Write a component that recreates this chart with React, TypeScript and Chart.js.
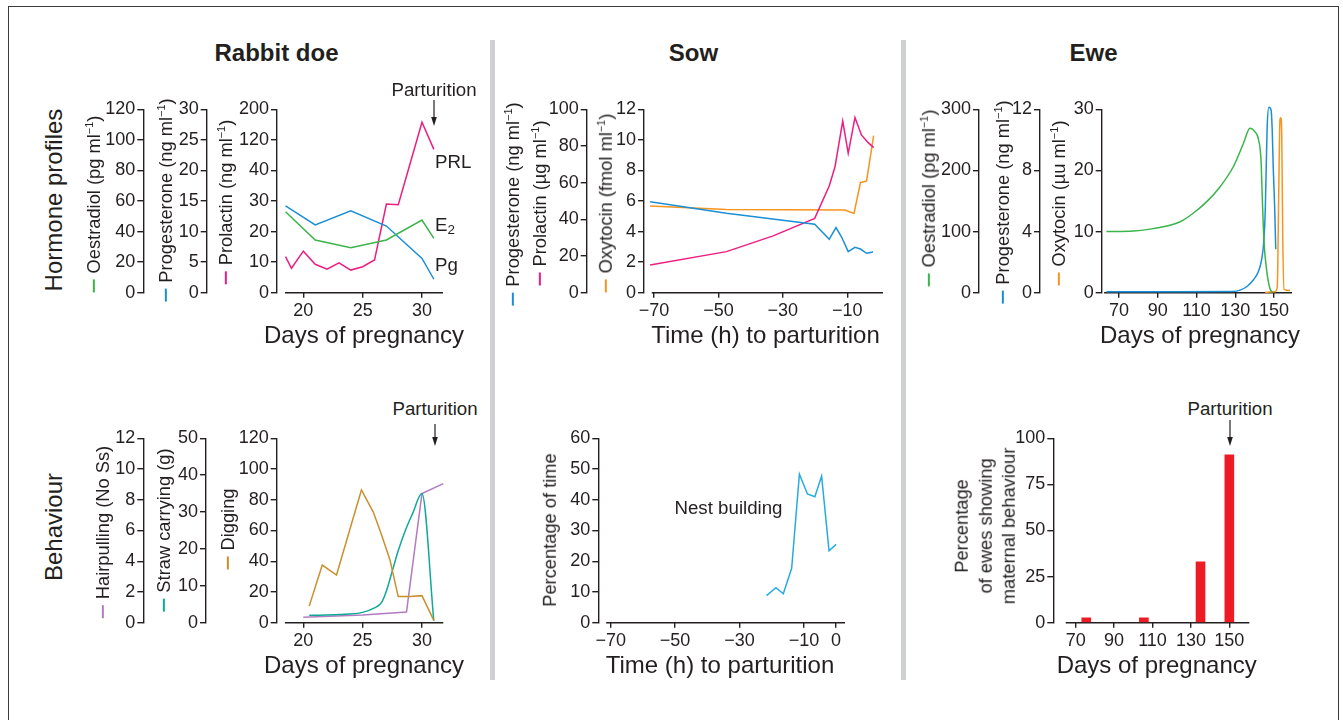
import React, { useEffect, useRef } from 'react';
import { Chart, registerables } from 'chart.js';

Chart.register(...registerables);

const FONT = "'Liberation Sans', Arial, Helvetica, sans-serif";
const INK = '#231f20';
Chart.defaults.font.family = FONT;
Chart.defaults.color = INK;

const GREEN = '#3ab54a';
const BLUE = '#1b8fd6';
const PINK = '#ec1e82';
const ORANGE = '#f7941e';
const TEAL = '#10a898';
const PURPLE = '#b27cc0';
const BROWN = '#c8902e';
const CYAN = '#27aae1';
const RED = '#ed1c24';

// ---------- Rabbit doe : hormone profiles ----------
const rabbitDaysTicks = [20, 25, 30];
const rabbitE2Days = [18.5, 21, 24, 27, 30, 31];
const rabbitE2 = [53, 34.5, 29.4, 34.5, 47.5, 35.5];
const rabbitPgDays = [18.5, 21, 24, 27, 30, 31];
const rabbitPg = [14.2, 11.1, 13.4, 10.9, 5.6, 2.2];
const rabbitPrlDays = [18.5, 19, 20, 21, 22, 23, 24, 25, 26, 27, 28, 30, 31];
const rabbitPrl = [11.8, 8, 13.6, 9.3, 7.7, 9.8, 7.4, 8.5, 10.7, 29, 28.8, 166, 95];
const rabbitE2Ticks = [0, 20, 40, 60, 80, 100, 120];
const rabbitPgTicks = [0, 5, 10, 15, 20, 25, 30];
const prlTickPos = [0, 10, 20, 30, 40, 50, 60];
const prlTickLabels = ['0', '10', '20', '30', '40', '120', '200'];

// ---------- Rabbit doe : behaviour ----------
const hairDays = [20, 25, 28.7, 30, 31.8];
const hairpulling = [0.35, 0.5, 0.7, 8.4, 9.05];
const strawDays = [20.5, 23, 25, 26, 26.6, 27, 27.5, 28, 28.6, 29.2, 30, 31];
const strawCarrying = [2.0, 2.2, 2.8, 4, 5.5, 8.5, 14, 19.5, 25, 29.5, 35, 0.5];
const digDays = [20.5, 21.6, 22.8, 24.9, 25.9, 26.6, 27.3, 28, 29, 30, 31];
const digging = [10.8, 37.5, 31, 86.4, 72, 57, 41, 17, 17, 17.6, 1.5];
const hairTicks = [0, 2, 4, 6, 8, 10, 12];
const strawTicks = [0, 10, 20, 30, 40, 50];
const digTicks = [0, 20, 40, 60, 80, 100, 120];

// ---------- Sow : hormone profiles ----------
const sowHourTicks = [-70, -50, -30, -10];
const sowPgHours = [-71.2, -47.5, -20.1, -15.6, -13.5, -11.8, -9.7, -7.6, -5.9, -4.0, -2.0];
const sowPg = [49.6, 43.3, 37.3, 29.1, 35.5, 30.5, 22.4, 24.7, 23.8, 21.5, 22.2];
const sowPrlHours = [-71.2, -47.5, -33, -20.1, -15.6, -13.8, -11.4, -9.7, -7.6, -5.6, -3.5, -1.8];
const sowPrl = [15.1, 22.4, 31, 40.5, 58.2, 68.7, 93.6, 76, 95.5, 86, 81.8, 79.1];
const sowOxyHours = [-71.2, -47.5, -10.7, -7.9, -5.9, -4.0, -1.8];
const sowOxy = [5.67, 5.45, 5.41, 5.19, 7.2, 7.31, 10.28];
const sowPPTicks = [0, 20, 40, 60, 80, 100];
const sowOxyTicks = [0, 2, 4, 6, 8, 10, 12];

// ---------- Sow : behaviour ----------
const nestHourTicks = [-70, -50, -30, -10, 0];
const nestHours = [-21.6, -18.7, -16.4, -13.8, -11.4, -8.9, -6.6, -4.5, -2.2, 0];
const nestBuilding = [8.8, 11.4, 9.4, 17.7, 48.3, 41.9, 41, 47.7, 23.4, 25.5];
const nestTicks = [0, 10, 20, 30, 40, 50, 60];

// ---------- Ewe : hormone profiles ----------
const eweDayTicks = [70, 90, 110, 130, 150];
const eweE2Days = [63.5, 77.4, 86, 94.6, 101.5, 108.3, 115.3, 122.1, 129, 134.2, 137.6, 140.2, 141.9, 143.3, 144, 144.8, 146.2, 147.9, 149.3];
const eweE2 = [100, 101, 104, 109, 116, 130, 149, 173, 206, 244, 269, 263, 252, 217, 152, 86, 37, 7, 0.5];
const ewePgDays = [63.5, 100, 129, 132.5, 135.9, 139.3, 141.9, 143.6, 144.8, 145.5, 146, 146.5, 147.4, 148.5, 149.1, 149.6, 150.4, 150.9];
const ewePg = [0.07, 0.07, 0.08, 0.17, 0.39, 0.83, 1.37, 2.14, 3.45, 5.4, 8.25, 10.9, 12.13, 11.95, 10.6, 8.25, 5.4, 2.84];
const eweOxyDays = [145.4, 150.5, 151.7, 152.4, 153.1, 153.5, 154, 154.5, 155.2, 158.3];
const eweOxy = [0.05, 0.16, 1.0, 15.2, 28.3, 28.6, 26, 9.7, 0.55, 0.35];
const eweE2Ticks = [0, 100, 200, 300];
const ewePgTicks = [0, 4, 8, 12];
const eweOxyTicks = [0, 10, 20, 30];

// ---------- Ewe : behaviour ----------
const eweBehavDays = [75.5, 105.5, 135, 150];
const eweMaternal = [2.7, 2.7, 33, 91];
const maternalTicks = [0, 25, 50, 75, 100];

// axis break for rabbit prolactin (0..40 linear, then 40->120, 120->200 per division)
const prlPos = (v: number) => (v <= 40 ? v : v <= 120 ? 40 + ((v - 40) / 80) * 10 : 50 + ((v - 120) / 80) * 10);

const fmt = (v: number) => (v < 0 ? '\u2212' + Math.abs(v) : String(v));

type YOpt = { min: number; max: number; ticks: number[]; width: number; weight: number; labels?: string[] };

function yScale(o: YOpt) {
  return {
    type: 'linear',
    position: 'left',
    min: o.min,
    max: o.max,
    weight: o.weight,
    afterFit: (s: any) => {
      s.width = o.width;
    },
    afterBuildTicks: (s: any) => {
      s.ticks = o.ticks.map((v) => ({ value: v }));
    },
    grid: { drawOnChartArea: false, drawTicks: true, tickLength: 6, color: INK, lineWidth: 1.4 },
    border: { display: true, color: INK, width: 1.4 },
    ticks: {
      color: INK,
      font: { size: 18 },
      padding: 2,
      autoSkip: false,
      callback: (v: any) => {
        const n = Number(v);
        if (o.labels) {
          const i = o.ticks.indexOf(n);
          if (i >= 0) return o.labels[i];
        }
        return fmt(n);
      },
    },
  };
}

function xScale(o: { min: number; max: number; ticks: number[] }) {
  return {
    type: 'linear',
    position: 'bottom',
    min: o.min,
    max: o.max,
    offset: false,
    afterFit: (s: any) => {
      s.height = 67.3;
    },
    afterBuildTicks: (s: any) => {
      s.ticks = o.ticks.map((v) => ({ value: v }));
    },
    grid: { drawOnChartArea: false, drawTicks: true, tickLength: 5, color: INK, lineWidth: 1.4, offset: false },
    border: { display: false },
    ticks: { color: INK, font: { size: 18 }, padding: 3, maxRotation: 0, autoSkip: false, callback: (v: any) => fmt(Number(v)) },
    title: { display: false },
  };
}

function line(xs: number[], ys: number[], color: string, yAxisID: string, smooth = false) {
  return {
    type: 'line',
    data: xs.map((x, i) => ({ x, y: ys[i] })),
    borderColor: color,
    backgroundColor: color,
    borderWidth: 1.5,
    pointRadius: 0,
    fill: false,
    tension: 0,
    cubicInterpolationMode: smooth ? 'monotone' : 'default',
    clip: 6,
    yAxisID,
    xAxisID: 'x',
  };
}

const baselinePlugin = {
  id: 'baseline',
  beforeDatasetsDraw(chart: any, _args: any, opts: any) {
    const x = chart.scales.x;
    const { ctx, chartArea } = chart;
    ctx.save();
    ctx.strokeStyle = INK;
    ctx.lineWidth = 1.4;
    ctx.beginPath();
    ctx.moveTo(x.getPixelForValue(opts.from), chartArea.bottom);
    ctx.lineTo(chartArea.right, chartArea.bottom);
    ctx.stroke();
    ctx.restore();
  },
};

function opts(padding: any, from: number, scales: any) {
  return {
    responsive: false,
    maintainAspectRatio: false,
    animation: false,
    events: [],
    layout: { padding },
    plugins: { legend: { display: false }, tooltip: { enabled: false }, title: { display: false }, baseline: { from } },
    scales,
  };
}

const rtConfig = () => ({
  type: 'line',
  data: {
    datasets: [
      line(rabbitE2Days, rabbitE2, GREEN, 'yE2'),
      line(rabbitPgDays, rabbitPg, BLUE, 'yPg'),
      line(rabbitPrlDays, rabbitPrl.map(prlPos), PINK, 'yPrl'),
    ],
  },
  options: opts({ left: 0, top: 14.3, right: 32, bottom: 0 }, 18.45, {
    x: xScale({ min: 17.78, max: 31.77, ticks: rabbitDaysTicks }),
    yPrl: yScale({ min: 0, max: 60, ticks: prlTickPos, labels: prlTickLabels, width: 70.3, weight: 0 }),
    yPg: yScale({ min: 0, max: 30, ticks: rabbitPgTicks, width: 63.4, weight: 1 }),
    yE2: yScale({ min: 0, max: 120, ticks: rabbitE2Ticks, width: 43.3, weight: 2 }),
  }),
  plugins: [baselinePlugin],
});

const stConfig = () => ({
  type: 'line',
  data: {
    datasets: [
      line(sowPgHours, sowPg, BLUE, 'yPP'),
      line(sowPrlHours, sowPrl, PINK, 'yPP'),
      line(sowOxyHours, sowOxy, ORANGE, 'yOxy'),
    ],
  },
  options: opts({ left: 0, top: 14.3, right: 7, bottom: 0 }, -70.7, {
    x: xScale({ min: -73.1, max: 1.1, ticks: sowHourTicks }),
    yOxy: yScale({ min: 0, max: 12, ticks: sowOxyTicks, width: 57.3, weight: 0 }),
    yPP: yScale({ min: 0, max: 100, ticks: sowPPTicks, width: 86.7, weight: 1 }),
  }),
  plugins: [baselinePlugin],
});

const etConfig = () => ({
  type: 'line',
  data: {
    datasets: [
      line(eweE2Days, eweE2, GREEN, 'yE2', true),
      line(ewePgDays, ewePg, BLUE, 'yPg', true),
      line(eweOxyDays, eweOxy, ORANGE, 'yOxy', true),
    ],
  },
  options: opts({ left: 0, top: 14.3, right: 18, bottom: 0 }, 62.3, {
    x: xScale({ min: 61.07, max: 159.3, ticks: eweDayTicks }),
    yOxy: yScale({ min: 0, max: 30, ticks: eweOxyTicks, width: 61.7, weight: 0 }),
    yPg: yScale({ min: 0, max: 12, ticks: ewePgTicks, width: 61, weight: 1 }),
    yE2: yScale({ min: 0, max: 300, ticks: eweE2Ticks, width: 64, weight: 2 }),
  }),
  plugins: [baselinePlugin],
});

const rbConfig = () => ({
  type: 'line',
  data: {
    datasets: [
      line(digDays, digging, BROWN, 'yDig'),
      line(strawDays, strawCarrying, TEAL, 'yStraw', true),
      line(hairDays, hairpulling, PURPLE, 'yHair'),
    ],
  },
  options: opts({ left: 0, top: 13.3, right: 31.7, bottom: 0 }, 18.45, {
    x: xScale({ min: 17.76, max: 31.8, ticks: rabbitDaysTicks }),
    yDig: yScale({ min: 0, max: 120, ticks: digTicks, width: 70.7, weight: 0 }),
    yStraw: yScale({ min: 0, max: 50, ticks: strawTicks, width: 62.7, weight: 1 }),
    yHair: yScale({ min: 0, max: 12, ticks: hairTicks, width: 43.3, weight: 2 }),
  }),
  plugins: [baselinePlugin],
});

const sbConfig = () => ({
  type: 'line',
  data: { datasets: [line(nestHours, nestBuilding, CYAN, 'y')] },
  options: opts({ left: 0, top: 13.3, right: 45, bottom: 0 }, -71.4, {
    x: xScale({ min: -73.85, max: 2.76, ticks: nestHourTicks }),
    y: yScale({ min: 0, max: 60, ticks: nestTicks, width: 98.3, weight: 0 }),
  }),
  plugins: [baselinePlugin],
});

const ebConfig = () => ({
  type: 'bar',
  data: {
    datasets: [
      {
        data: eweBehavDays.map((x, i) => ({ x, y: eweMaternal[i] })),
        backgroundColor: RED,
        borderWidth: 0,
        barThickness: 9,
        xAxisID: 'x',
        yAxisID: 'y',
      },
    ],
  },
  options: opts({ left: 0, top: 13.3, right: 60.7, bottom: 0 }, 64.8, {
    x: xScale({ min: 58.33, max: 160.4, ticks: eweDayTicks }),
    y: yScale({ min: 0, max: 100, ticks: maternalTicks, width: 138.3, weight: 0 }),
  }),
  plugins: [baselinePlugin],
});

function Panel({ left, top, width, height, make }: { left: number; top: number; width: number; height: number; make: () => any }) {
  const ref = useRef<HTMLCanvasElement>(null);
  useEffect(() => {
    const chart = new Chart(ref.current as HTMLCanvasElement, make());
    return () => chart.destroy();
  }, []);
  return (
    <canvas
      ref={ref}
      width={width}
      height={height}
      style={{ position: 'absolute', left, top, width, height }}
    />
  );
}

function Txt({ x, y, size = 18.7, bold = false, align = 'center', children }: any) {
  return (
    <div
      style={{
        position: 'absolute',
        left: x,
        top: y,
        transform: `translate(${align === 'center' ? '-50%' : '0'},-50%)`,
        fontSize: size,
        fontWeight: bold ? 700 : 400,
        lineHeight: 1,
        whiteSpace: 'nowrap',
      }}
    >
      {children}
    </div>
  );
}

function VLabel({ cx, cy, color, size = 18.3, children }: any) {
  return (
    <div
      style={{
        position: 'absolute',
        left: cx,
        top: cy,
        transform: 'translate(-50%,-50%) rotate(-90deg)',
        whiteSpace: 'nowrap',
        fontSize: size,
        lineHeight: 1,
        display: 'flex',
        alignItems: 'center',
      }}
    >
      {color ? (
        <span style={{ display: 'inline-block', width: 13, height: 1.6, background: color, marginRight: 6 }} />
      ) : null}
      <span>{children}</span>
    </div>
  );
}

function Arrow({ x, y1, y2 }: { x: number; y1: number; y2: number }) {
  const h = y2 - y1;
  return (
    <svg style={{ position: 'absolute', left: x - 5, top: y1, overflow: 'visible' }} width={10} height={h}>
      <line x1={5} y1={0} x2={5} y2={h - 6} stroke={INK} strokeWidth={1.2} />
      <polygon points={`2.2,${h - 9} 7.8,${h - 9} 5,${h}`} fill={INK} />
    </svg>
  );
}

const Inv = () => (
  <sup style={{ fontSize: '0.6em', verticalAlign: '0.65em', lineHeight: 0 }}>{'\u22121'}</sup>
);

export default function App() {
  return (
    <div
      style={{
        position: 'absolute',
        left: 0,
        top: 0,
        width: 1343,
        height: 720,
        overflow: 'hidden',
        background: '#fff',
        fontFamily: FONT,
        color: INK,
      }}
    >
      <div
        style={{
          position: 'absolute',
          left: 8,
          top: 6,
          width: 1331,
          height: 760,
          border: '1.5px solid #3a3a3a',
          boxSizing: 'border-box',
        }}
      />
      <div style={{ position: 'absolute', left: 490, top: 40, width: 5, height: 640, background: '#cfd0d2' }} />
      <div style={{ position: 'absolute', left: 901, top: 40, width: 5, height: 640, background: '#cfd0d2' }} />

      <Panel left={100} top={95} width={375} height={265} make={rtConfig} />
      <Panel left={500} top={95} width={390} height={265} make={stConfig} />
      <Panel left={915} top={95} width={395} height={265} make={etConfig} />
      <Panel left={100} top={425} width={375} height={265} make={rbConfig} />
      <Panel left={500} top={425} width={390} height={265} make={sbConfig} />
      <Panel left={915} top={425} width={395} height={265} make={ebConfig} />

      <Txt x={276.5} y={53} size={24} bold>Rabbit doe</Txt>
      <Txt x={693.5} y={53} size={24} bold>Sow</Txt>
      <Txt x={1093.5} y={53} size={24} bold>Ewe</Txt>

      <VLabel cx={54} cy={200} size={24}>Hormone profiles</VLabel>
      <VLabel cx={54} cy={527} size={24}>Behaviour</VLabel>

      {/* x-axis titles */}
      <Txt x={364} y={335.3} size={24}>Days of pregnancy</Txt>
      <Txt x={765.5} y={335.3} size={24}>Time (h) to parturition</Txt>
      <Txt x={1200} y={335.3} size={24}>Days of pregnancy</Txt>
      <Txt x={364} y={664.7} size={24}>Days of pregnancy</Txt>
      <Txt x={720} y={664.7} size={24}>Time (h) to parturition</Txt>
      <Txt x={1156.7} y={664.7} size={24}>Days of pregnancy</Txt>

      {/* Rabbit hormone axis titles */}
      <VLabel cx={94} cy={204} color={GREEN}>Oestradiol (pg ml<Inv />)</VLabel>
      <VLabel cx={165.5} cy={200} color={BLUE}>Progesterone (ng ml<Inv />)</VLabel>
      <VLabel cx={225.5} cy={201.5} color={PINK}>Prolactin (ng ml<Inv />)</VLabel>
      <Txt x={434} y={90}>Parturition</Txt>
      <Arrow x={434.3} y1={100} y2={126} />
      <Txt x={435} y={162} align="left">PRL</Txt>
      <Txt x={435} y={225} align="left">
        E<sub style={{ fontSize: '0.72em', verticalAlign: '-0.25em', lineHeight: 0 }}>2</sub>
      </Txt>
      <Txt x={435} y={265} align="left">Pg</Txt>

      {/* Sow hormone axis titles */}
      <VLabel cx={512.5} cy={203.5} color={BLUE}>Progesterone (ng ml<Inv />)</VLabel>
      <VLabel cx={539.5} cy={202.5} color={PINK}>Prolactin (µg ml<Inv />)</VLabel>
      <VLabel cx={605.5} cy={202.5} color={ORANGE}>Oxytocin (fmol ml<Inv />)</VLabel>

      {/* Ewe hormone axis titles */}
      <VLabel cx={929} cy={197.5} color={GREEN}>Oestradiol (pg ml<Inv />)</VLabel>
      <VLabel cx={1002.5} cy={201.5} color={BLUE}>Progesterone (ng ml<Inv />)</VLabel>
      <VLabel cx={1059} cy={202.5} color={ORANGE}>Oxytocin (µu ml<Inv />)</VLabel>

      {/* Rabbit behaviour */}
      <VLabel cx={102.5} cy={531.5} color={PURPLE}>Hairpulling (No Ss)</VLabel>
      <VLabel cx={164} cy={530} color={TEAL}>Straw carrying (g)</VLabel>
      <VLabel cx={227.5} cy={529} color={BROWN}>Digging</VLabel>
      <Txt x={435} y={409}>Parturition</Txt>
      <Arrow x={435} y1={424} y2={446} />

      {/* Sow behaviour */}
      <VLabel cx={550} cy={530}>Percentage of time</VLabel>
      <Txt x={728.5} y={508}>Nest building</Txt>

      {/* Ewe behaviour */}
      <div
        style={{
          position: 'absolute',
          left: 985,
          top: 526,
          transform: 'translate(-50%,-50%) rotate(-90deg)',
          whiteSpace: 'nowrap',
          fontSize: 18.3,
          lineHeight: '23.5px',
          textAlign: 'center',
        }}
      >
        Percentage
        <br />
        of ewes showing
        <br />
        maternal behaviour
      </div>
      <Txt x={1230} y={409}>Parturition</Txt>
      <Arrow x={1230} y1={420} y2={446} />
    </div>
  );
}
